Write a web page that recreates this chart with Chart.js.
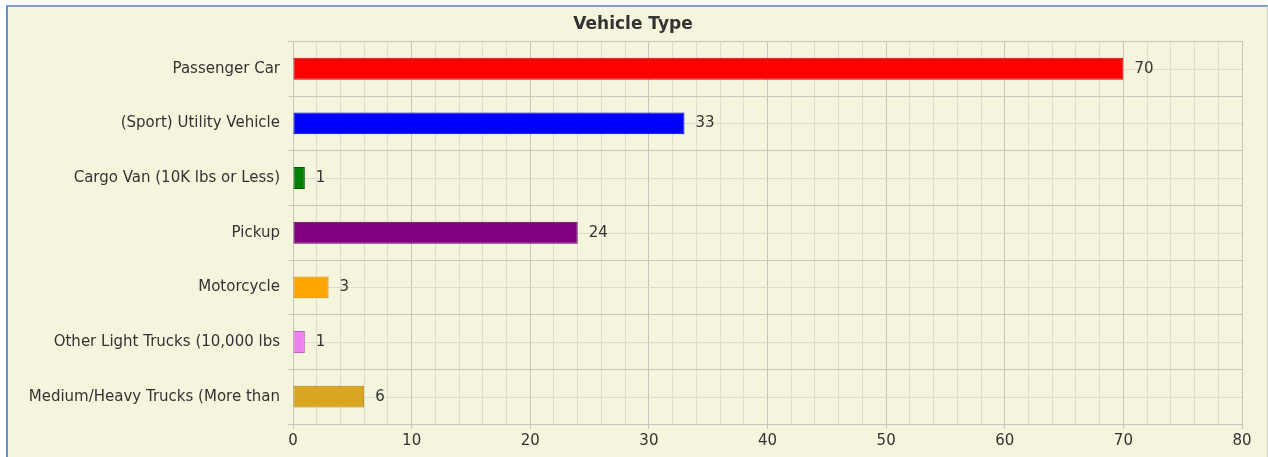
<!DOCTYPE html>
<html>
<head>
<meta charset="utf-8">
<script src="https://cdn.jsdelivr.net/npm/chart.js@4"></script>
<style>
  html, body { margin: 0; padding: 0; background: #fff; }
  .box {
    position: absolute; left: 6px; top: 5px; width: 1259px; height: 451px;
    background: #f5f4dc;
    border-left: 2px solid #5f8fcf; border-top: 2px solid #7ea0cf;
    border-right: 1px solid #c4d0dc; border-bottom: 1px solid #c4d0dc;
  }
  canvas { display: block; }
</style>
</head>
<body>
<div class="box"><canvas id="myChart" width="1259" height="451"></canvas></div>
<script>
const categories = ['Passenger Car', '(Sport) Utility Vehicle', 'Cargo Van (10K lbs or Less)', 'Pickup', 'Motorcycle', 'Other Light Trucks (10,000 lbs', 'Medium/Heavy Trucks (More than'];
const counts = [70, 33, 1, 24, 3, 1, 6];
const barColors = ['#ff0000', '#0000ff', '#008000', '#800080', '#ffa500', '#ee82ee', '#daa520'];
const borderColors = ['#e00000', '#0000d8', '#006000', '#600060', '#d08800', '#c060c0', '#b08010'];
const xMax = 80;

const fontFamily = '"DejaVu Sans", Verdana, sans-serif';
const majorGrid = '#c6c6bc';
const minorGrid = '#dcdcd0';

// value labels to the right of each bar
const valueLabels = {
    id: 'valueLabels',
    afterDatasetsDraw(chart) {
        const ctx = chart.ctx;
        const meta = chart.getDatasetMeta(0);
        ctx.save();
        ctx.font = '15px ' + fontFamily;
        ctx.fillStyle = '#333';
        ctx.textBaseline = 'middle';
        meta.data.forEach((bar, i) => {
            ctx.fillText(String(counts[i]), bar.x + 11, bar.y);
        });
        ctx.restore();
    }
};

// light lines through the middle of each category
const centerLines = {
    id: 'centerLines',
    beforeDatasetsDraw(chart) {
        const ctx = chart.ctx;
        const y = chart.scales.y;
        const area = chart.chartArea;
        ctx.save();
        ctx.strokeStyle = minorGrid;
        ctx.lineWidth = 1;
        for (let i = 0; i < categories.length; i++) {
            const py = Math.round(y.getPixelForTick(i)) + 0.5;
            ctx.beginPath();
            ctx.moveTo(area.left, py);
            ctx.lineTo(area.right, py);
            ctx.stroke();
        }
        ctx.restore();
    }
};

const ctx = document.getElementById('myChart').getContext('2d');
const myChart = new Chart(ctx, {
    type: 'bar',
    data: {
        labels: categories,
        datasets: [{
            label: 'Vehicle Type',
            data: counts,
            backgroundColor: barColors,
            borderColor: borderColors,
            borderWidth: 1,
            borderSkipped: false,
            barPercentage: 0.4,
            categoryPercentage: 1.0
        }]
    },
    plugins: [centerLines, valueLabels],
    options: {
        indexAxis: 'y',
        responsive: false,
        animation: false,
        layout: { padding: { top: 7, right: 25, left: 16, bottom: 0 } },
        plugins: {
            legend: { display: false },
            tooltip: { enabled: false },
            title: {
                display: true,
                text: 'Vehicle Type',
                color: '#333',
                font: { family: fontFamily, size: 17, weight: 'bold' },
                padding: { top: 0, bottom: 7 }
            }
        },
        scales: {
            x: {
                min: 0,
                max: xMax,
                afterFit(scale) { scale.height = 34; },
                ticks: {
                    stepSize: 2,
                    autoSkip: false,
                    maxRotation: 0,
                    color: '#333',
                    padding: 3,
                    font: { family: fontFamily, size: 15 },
                    callback: v => (v % 10 === 0 ? v : '')
                },
                grid: {
                    color: c => (c.tick && c.tick.value % 10 === 0 ? majorGrid : minorGrid),
                    tickColor: c => (c.tick && c.tick.value % 10 === 0 ? majorGrid : 'rgba(0,0,0,0)'),
                    tickLength: 5
                },
                border: { color: majorGrid }
            },
            y: {
                afterFit(scale) { scale.width = 269; },
                ticks: {
                    color: '#333',
                    padding: 8,
                    font: { family: fontFamily, size: 15 }
                },
                grid: {
                    color: majorGrid,
                    tickColor: majorGrid,
                    tickLength: 5
                },
                border: { color: majorGrid }
            }
        }
    }
});
</script>
</body>
</html>
